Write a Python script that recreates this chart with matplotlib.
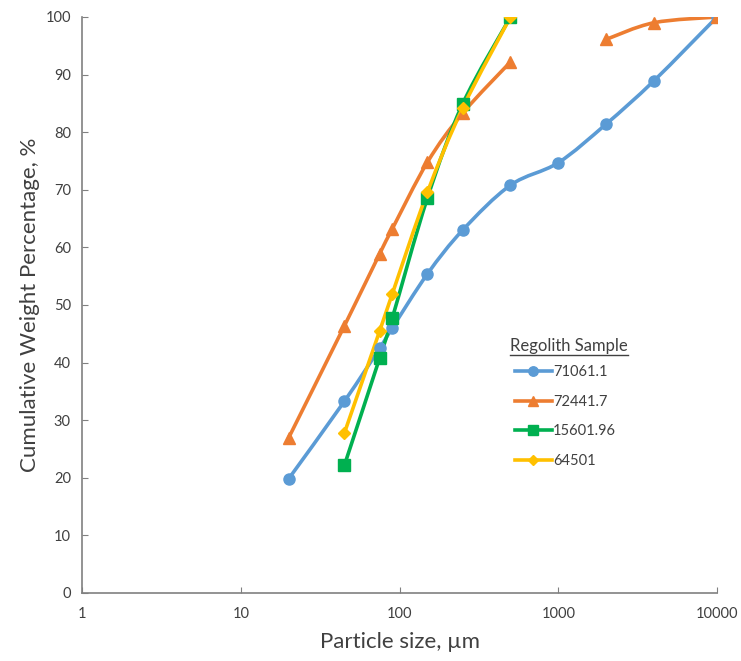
import numpy as np
import matplotlib
matplotlib.use("Agg")
import matplotlib.pyplot as plt
from matplotlib.path import Path
from matplotlib.patches import PathPatch
from matplotlib.lines import Line2D

plt.rcParams['font.family'] = ['Lato', 'DejaVu Sans']

# particle sizes (µm) and cumulative weight percentages
sizes = [20, 45, 75, 90, 150, 250, 500, 1000, 2000, 4000, 10000]
s71061 = [19.8, 33.3, 42.5, 46.0, 55.4, 63.0, 70.8, 74.7, 81.4, 88.9, 100.0]
s72441 = [26.9, 46.4, 58.9, 63.2, 74.8, 83.3, 92.2, np.nan, 96.1, 99.0, 100.0]
s15601 = [np.nan, 22.2, 40.8, 47.7, 68.6, 84.9, 100.0, np.nan, np.nan, np.nan, np.nan]
s64501 = [np.nan, 27.8, 45.5, 51.9, 69.6, 84.2, 100.0, np.nan, np.nan, np.nan, np.nan]

names = ['71061.1', '72441.7', '15601.96', '64501']
series = [s71061, s72441, s15601, s64501]
colors = ['#5B9BD5', '#ED7D31', '#00B050', '#FFC000']
markers = ['o', '^', 's', 'D']
msizes = [8, 9, 8, 6.5]


def smooth_path(xs, ys):
    # excel-style smoothed line: bezier segments in (log x, y) space
    verts, codes = [], []
    xs = np.asarray(xs, float)
    ys = np.asarray(ys, float)
    ok = ~np.isnan(ys)
    runs, cur = [], []
    for i in range(len(xs)):
        if ok[i]:
            cur.append(i)
        elif cur:
            runs.append(cur)
            cur = []
    if cur:
        runs.append(cur)
    for r in runs:
        u = np.log10(xs[r])
        v = ys[r]
        n = len(r)
        verts.append((xs[r[0]], v[0]))
        codes.append(Path.MOVETO)
        for i in range(n - 1):
            p0 = max(i - 1, 0)
            p3 = min(i + 2, n - 1)
            c1u = u[i] + (u[i + 1] - u[p0]) / 6
            c1v = v[i] + (v[i + 1] - v[p0]) / 6
            c2u = u[i + 1] - (u[p3] - u[i]) / 6
            c2v = v[i + 1] - (v[p3] - v[i]) / 6
            verts += [(10 ** c1u, c1v), (10 ** c2u, c2v), (xs[r[i + 1]], v[i + 1])]
            codes += [Path.CURVE4] * 3
    return Path(verts, codes)


fig = plt.figure(figsize=(7.41, 6.61), dpi=100)
ax = fig.add_axes([0.1107, 0.1029, 0.8569, 0.8714])
ax.set_xscale('log')

for name, ys, c, m, ms in zip(names, series, colors, markers, msizes):
    ax.add_patch(PathPatch(smooth_path(sizes, ys), facecolor='none', edgecolor=c,
                           lw=2.6, capstyle='round', joinstyle='round'))
    ax.plot(sizes, ys, ls='none', marker=m, ms=ms, color=c, mec=c)
    # legend handle
    ax.plot([], [], color=c, lw=2.6, marker=m, ms=ms * 0.85, label=name)

ax.set_xlim(1, 10000)
ax.set_ylim(0, 100)
ax.set_yticks(range(0, 101, 10))
ax.set_xticks([1, 10, 100, 1000, 10000])
ax.set_xticklabels(['1', '10', '100', '1000', '10000'])
ax.minorticks_off()
ax.tick_params(direction='in', length=4, color='#808080', labelsize=10.5,
               labelcolor='#404040')
ax.tick_params(axis='x', pad=10)
ax.tick_params(axis='y', pad=8)
for sp in ['top', 'right']:
    ax.spines[sp].set_visible(False)
for sp in ['left', 'bottom']:
    ax.spines[sp].set_color('#808080')
    ax.spines[sp].set_linewidth(1.2)

ax.set_xlabel('Particle size, µm', fontsize=16, color='#404040', labelpad=8)
ax.set_ylabel('Cumulative Weight Percentage, %', fontsize=16, color='#404040', labelpad=4)

leg = ax.legend(loc='upper left', bbox_to_anchor=(0.682, 0.396), frameon=False,
                fontsize=10.5, labelspacing=1.08, borderpad=0, borderaxespad=0,
                handlelength=2.5, handletextpad=0.1)
for t in leg.get_texts():
    t.set_color('#404040')

# legend title, underlined
title = ax.text(0.674, 0.428, 'Regolith Sample', transform=ax.transAxes,
                fontsize=12, color='#404040', ha='left', va='center')
fig.canvas.draw()
bb = title.get_window_extent().transformed(fig.transFigure.inverted())
fig.add_artist(Line2D([bb.x0, bb.x1], [bb.y0 - 0.001, bb.y0 - 0.001],
                      transform=fig.transFigure, color='#404040', lw=1))

fig.savefig('out.png', dpi=100)
